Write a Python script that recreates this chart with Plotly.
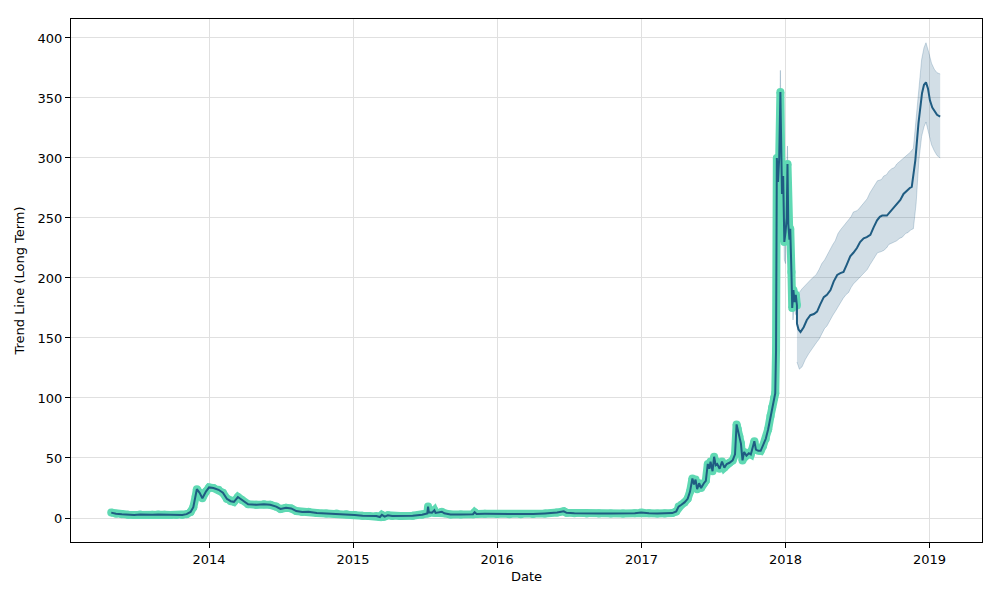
import plotly.graph_objects as go

# ---- historical data (actual) ----
hist_dates = [
    "2013-04-28", "2013-05-10", "2013-05-25", "2013-06-10", "2013-06-25", "2013-07-10", "2013-07-25",
    "2013-08-10", "2013-08-25", "2013-09-10", "2013-09-25", "2013-10-10", "2013-10-25", "2013-11-05",
    "2013-11-15", "2013-11-22", "2013-11-28", "2013-12-01", "2013-12-08", "2013-12-15", "2013-12-24",
    "2014-01-01", "2014-01-12", "2014-01-25", "2014-02-05", "2014-02-15", "2014-02-25", "2014-03-05",
    "2014-03-15", "2014-03-25", "2014-04-10", "2014-05-01", "2014-05-20", "2014-06-05", "2014-06-20",
    "2014-07-01", "2014-07-15", "2014-07-28", "2014-08-10", "2014-08-25", "2014-09-10", "2014-10-01",
    "2014-10-25", "2014-11-20", "2014-12-15", "2015-01-05", "2015-01-25", "2015-02-10", "2015-03-01",
    "2015-03-10", "2015-03-15", "2015-03-22", "2015-03-30", "2015-04-10", "2015-05-01", "2015-06-01",
    "2015-06-25", "2015-07-08", "2015-07-10", "2015-07-12", "2015-07-20", "2015-07-26", "2015-07-29",
    "2015-08-10", "2015-08-14", "2015-08-20", "2015-09-05", "2015-10-01", "2015-11-01", "2015-11-05",
    "2015-11-10", "2015-12-01", "2016-01-01", "2016-02-01", "2016-03-01", "2016-04-01", "2016-05-01",
    "2016-06-01", "2016-06-18", "2016-06-25", "2016-07-15", "2016-08-15", "2016-09-15", "2016-10-15",
    "2016-11-15", "2016-12-15", "2016-12-31", "2017-01-05", "2017-01-20", "2017-02-10", "2017-03-01",
    "2017-03-20", "2017-03-30", "2017-04-05", "2017-04-12", "2017-04-20", "2017-04-28", "2017-05-04",
    "2017-05-10", "2017-05-14", "2017-05-18", "2017-05-22", "2017-05-27", "2017-06-01", "2017-06-08",
    "2017-06-13", "2017-06-18", "2017-06-22", "2017-06-25", "2017-06-30", "2017-07-04", "2017-07-08",
    "2017-07-12", "2017-07-18", "2017-07-24", "2017-07-30", "2017-08-05", "2017-08-12", "2017-08-20",
    "2017-08-26", "2017-08-30", "2017-09-02", "2017-09-06", "2017-09-10", "2017-09-14", "2017-09-18",
    "2017-09-24", "2017-09-30", "2017-10-05", "2017-10-10", "2017-10-14", "2017-10-18", "2017-10-24",
    "2017-10-30", "2017-11-05", "2017-11-12", "2017-11-18", "2017-11-24", "2017-11-28", "2017-12-03",
    "2017-12-06", "2017-12-08", "2017-12-10", "2017-12-13", "2017-12-16", "2017-12-19", "2017-12-21",
    "2017-12-23", "2017-12-26", "2017-12-29", "2018-01-01", "2018-01-04", "2018-01-06", "2018-01-08",
    "2018-01-11", "2018-01-13", "2018-01-16", "2018-01-18", "2018-01-21", "2018-01-24", "2018-01-27",
    "2018-01-30",
]
hist_values = [
    4.5, 3.6, 3.2, 2.8, 2.6, 2.9, 2.6,
    2.8, 2.9, 2.8, 2.6, 2.5, 2.6, 3.2,
    5.0, 9.0, 18.0, 24.0, 21.0, 16.5, 22.0,
    25.5, 25.0, 23.5, 21.0, 16.0, 14.0, 13.5,
    17.5, 15.0, 11.5, 11.0, 11.5, 11.0, 9.5,
    7.5, 8.5, 8.0, 5.8, 5.0, 5.2, 4.2,
    3.8, 3.7, 3.2, 2.5, 1.8, 1.6, 1.7,
    0.8, 2.6, 1.2, 2.2, 1.6, 1.7, 1.9,
    2.7, 3.8, 9.5, 4.8, 4.5, 6.5, 4.2,
    4.5, 5.2, 3.9, 3.0, 3.0, 3.2, 4.8,
    3.4, 3.5, 3.4, 3.2, 3.2, 3.3, 3.8,
    4.5, 5.6, 4.3, 4.0, 3.7, 3.8, 3.8,
    3.8, 4.0, 4.5, 4.3, 3.9, 3.8, 3.8,
    4.1, 5.5, 9.5, 11.0, 13.0, 16.0, 22.0,
    33.0, 28.0, 32.0, 24.0, 29.0, 25.0, 29.0,
    31.0, 45.0, 41.0, 47.0, 39.0, 51.0, 44.0,
    45.0, 41.0, 47.0, 42.0, 45.0, 46.0, 48.0,
    53.0, 78.0, 74.0, 68.0, 62.0, 48.0, 55.0,
    52.0, 54.0, 53.0, 58.0, 64.0, 57.0, 56.0,
    56.0, 60.0, 66.0, 74.0, 85.0, 92.0, 100.0,
    104.0, 140.0, 300.0, 280.0, 300.0, 355.0, 300.0,
    270.0, 285.0, 230.0, 238.0, 250.0, 295.0, 245.0,
    232.0, 241.0, 205.0, 175.0, 190.0, 180.0, 186.0,
    177.0,
]

# ---- forecast trend (yhat) ----
fc_dates = [
    "2018-01-30", "2018-02-03", "2018-02-08", "2018-02-16", "2018-02-24", "2018-03-05", "2018-03-14",
    "2018-03-22", "2018-03-30", "2018-04-08", "2018-04-16", "2018-04-25", "2018-05-03", "2018-05-12",
    "2018-05-20", "2018-05-28", "2018-06-05", "2018-06-14", "2018-06-22", "2018-07-01", "2018-07-09",
    "2018-07-18", "2018-07-26", "2018-08-04", "2018-08-12", "2018-08-21", "2018-08-28", "2018-09-03",
    "2018-09-15", "2018-09-23", "2018-10-02", "2018-10-10", "2018-10-19", "2018-10-27", "2018-11-05",
    "2018-11-12", "2018-11-17", "2018-11-26", "2018-12-04", "2018-12-13", "2018-12-18", "2018-12-23",
    "2018-12-28", "2019-01-02", "2019-01-08", "2019-01-14", "2019-01-20", "2019-01-28",
]
fc_values = [
    162.0, 157.0, 155.0, 159.0, 165.0, 169.0, 170.0,
    172.0, 178.0, 184.0, 186.0, 190.0, 197.0, 202.5,
    204.0, 205.0, 211.0, 218.0, 221.0, 225.0, 230.0,
    233.0, 234.0, 236.0, 242.0, 248.0, 251.0, 252.0,
    252.0, 255.0, 259.0, 262.0, 265.0, 270.0, 273.0,
    275.0, 276.0, 298.0, 329.0, 354.0, 361.0, 363.0,
    358.0, 348.0, 342.0, 339.0, 336.0, 334.5,
]

# ---- uncertainty band: forecast ----
band_dates = [
    "2018-01-30", "2018-02-05", "2018-02-12", "2018-02-20", "2018-03-01", "2018-03-07", "2018-03-14",
    "2018-03-20", "2018-03-27", "2018-04-03", "2018-04-10", "2018-04-16", "2018-04-22", "2018-05-01",
    "2018-05-07", "2018-05-14", "2018-05-20", "2018-05-27", "2018-06-03", "2018-06-10", "2018-06-16",
    "2018-06-22", "2018-07-01", "2018-07-07", "2018-07-14", "2018-07-20", "2018-07-27", "2018-08-03",
    "2018-08-10", "2018-08-16", "2018-08-22", "2018-09-01", "2018-09-07", "2018-09-14", "2018-09-20",
    "2018-09-27", "2018-10-04", "2018-10-10", "2018-10-17", "2018-10-24", "2018-11-01", "2018-11-08",
    "2018-11-14", "2018-11-21", "2018-11-28", "2018-12-05", "2018-12-12", "2018-12-18", "2018-12-23",
    "2018-12-30", "2019-01-06", "2019-01-13", "2019-01-20", "2019-01-28",
]
band_upper = [
    183.0, 188.0, 191.0, 194.0, 197.0, 199.0, 201.0,
    203.0, 207.0, 212.0, 215.0, 219.0, 222.0, 228.0,
    231.0, 237.0, 240.0, 243.0, 246.0, 249.0, 251.0,
    255.0, 256.0, 258.0, 261.0, 264.0, 266.0, 271.0,
    275.0, 278.0, 281.0, 282.0, 285.0, 286.0, 289.0,
    291.0, 292.0, 295.0, 297.0, 299.0, 301.0, 303.0,
    305.0, 308.0, 331.0, 360.0, 382.0, 392.0, 396.0,
    388.0, 379.0, 374.0, 371.0, 370.0,
]
band_lower = [
    130.0, 124.0, 126.0, 132.0, 137.0, 140.0, 144.0,
    146.0, 149.0, 153.0, 158.0, 160.0, 164.0, 169.0,
    172.0, 176.0, 180.0, 183.0, 186.0, 188.0, 192.0,
    195.0, 198.0, 200.0, 203.0, 205.0, 207.0, 211.0,
    215.0, 218.0, 221.0, 222.0, 223.0, 225.0, 228.0,
    229.0, 230.0, 231.0, 233.0, 234.0, 237.0, 238.0,
    240.0, 241.0, 262.0, 298.0, 318.0, 326.0, 330.0,
    320.0, 311.0, 306.0, 302.0, 300.0,
]

# ---- uncertainty band: late history (mostly hidden behind actuals) ----
hband_dates = [
    "2017-12-08", "2017-12-10", "2017-12-13", "2017-12-16", "2017-12-19", "2017-12-20", "2017-12-22",
    "2017-12-26", "2017-12-29", "2018-01-01", "2018-01-03", "2018-01-06", "2018-01-08", "2018-01-11",
    "2018-01-14", "2018-01-17", "2018-01-20", "2018-01-23", "2018-01-26", "2018-01-30",
]
hband_upper = [
    150.0, 310.0, 290.0, 310.0, 373.0, 330.0, 290.0,
    295.0, 245.0, 250.0, 275.0, 310.0, 255.0, 245.0,
    250.0, 215.0, 190.0, 195.0, 190.0, 182.0,
]
hband_lower = [
    135.0, 290.0, 265.0, 285.0, 340.0, 290.0, 255.0,
    270.0, 215.0, 212.0, 230.0, 270.0, 225.0, 220.0,
    232.0, 195.0, 165.0, 180.0, 170.0, 168.0,
]

year_ticks = ["2014-01-01", "2015-01-01", "2016-01-01", "2017-01-01", "2018-01-01", "2019-01-01"]
year_labels = ["2014", "2015", "2016", "2017", "2018", "2019"]
y_ticks = [0, 50, 100, 150, 200, 250, 300, 350, 400]

DARK = "#1f5c82"
GREEN = "#5fd9b3"
BAND_FILL = "rgba(31,92,130,0.2)"
BAND_EDGE = "rgba(31,92,130,0.22)"

fig = go.Figure()

for d, up, lo in [(hband_dates, hband_upper, hband_lower), (band_dates, band_upper, band_lower)]:
    fig.add_trace(go.Scatter(x=d, y=up, mode="lines", line=dict(color=BAND_EDGE, width=1),
                             showlegend=False, hoverinfo="skip"))
    fig.add_trace(go.Scatter(x=d, y=lo, mode="lines", line=dict(color=BAND_EDGE, width=1),
                             fill="tonexty", fillcolor=BAND_FILL, showlegend=False, hoverinfo="skip"))

# thick actual line; markers at vertices give rounded joins
fig.add_trace(go.Scatter(x=hist_dates, y=hist_values, mode="lines+markers",
                         line=dict(color=GREEN, width=8),
                         marker=dict(color=GREEN, size=8, line=dict(width=0)),
                         showlegend=False))
fig.add_trace(go.Scatter(x=hist_dates + fc_dates, y=hist_values + fc_values, mode="lines",
                         line=dict(color=DARK, width=2), showlegend=False))

axis_common = dict(
    showline=True, linecolor="black", linewidth=1, mirror=True,
    ticks="outside", ticklen=5, tickcolor="black", tickwidth=1,
    showgrid=True, gridcolor="#e0e0e0", gridwidth=1, zeroline=False,
    tickfont=dict(family="DejaVu Sans", size=13, color="black"),
)

fig.update_layout(
    width=1000, height=600,
    margin=dict(l=71, r=18, t=19, b=58),
    paper_bgcolor="white", plot_bgcolor="white",
    font=dict(family="DejaVu Sans", size=13, color="black"),
    xaxis=dict(type="date", range=["2013-01-16", "2019-05-14"],
               tickvals=year_ticks, ticktext=year_labels,
               title=dict(text="Date", font=dict(size=13), standoff=6), **axis_common),
    yaxis=dict(range=[-20, 415.8], tickvals=y_ticks,
               title=dict(text="Trend Line (Long Term)", font=dict(size=13), standoff=10), **axis_common),
)

fig.write_html("out.html")
